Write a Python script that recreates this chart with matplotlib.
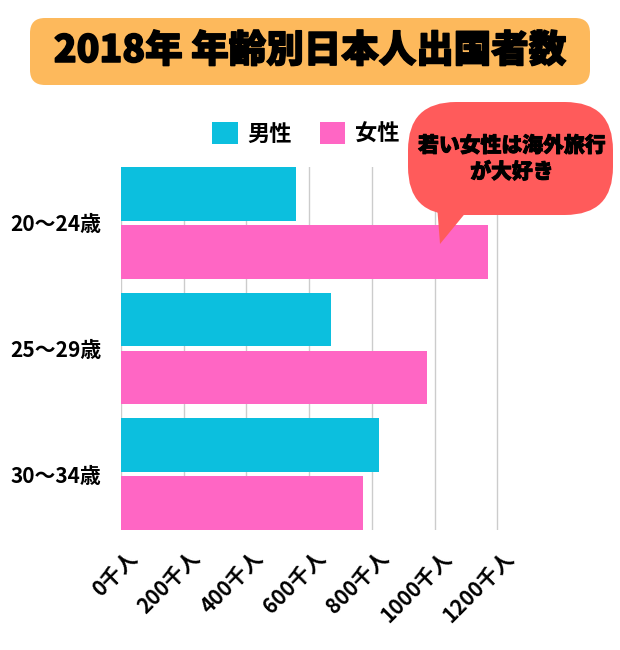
import matplotlib
matplotlib.use('Agg')
import matplotlib.pyplot as plt
import matplotlib.patheffects as pe
import matplotlib.transforms as mtrans
from matplotlib.patches import FancyBboxPatch, Polygon
import numpy as np

plt.rcParams['font.family'] = ['Noto Sans CJK JP', 'DejaVu Sans']

# data (thousand people)
ages = ['20〜24歳', '25〜29歳', '30〜34歳']
male = [558, 669, 822]
female = [1170, 975, 771]
xticks = [0, 200, 400, 600, 800, 1000, 1200]
xlabels = [str(v) + '千人' for v in xticks]

CYAN = '#0CBFDE'
PINK = '#FF66C4'

fig = plt.figure(figsize=(6.2, 6.5), dpi=100)
ax = fig.add_axes([121 / 620, 1 - 530 / 650, 392 / 620, 363 / 650])

y = np.arange(len(ages))
off = 0.231
h = 0.43
b1 = ax.barh(y - off, male, height=h, color=CYAN, label='男性', zorder=2)
b2 = ax.barh(y + off, female, height=h, color=PINK, label='女性', zorder=2)

ax.set_xlim(0, 1250)
ax.set_ylim(2.446, -0.446)
ax.set_yticks(y)
ax.set_yticklabels(ages, fontsize=15, fontweight='bold')
ax.set_xticks(xticks)
ax.set_xticklabels(xlabels, fontsize=15, fontweight='bold', rotation=45,
                   ha='right', rotation_mode='anchor')
ax.tick_params(axis='both', length=0)
ax.tick_params(axis='y', pad=14)
ax.tick_params(axis='x', pad=10)
shift = mtrans.ScaledTranslation(6 / 100, -3 / 100, fig.dpi_scale_trans)
for t in ax.get_xticklabels():
    t.set_transform(t.get_transform() + shift)
ax.grid(axis='x', color='#cccccc', linewidth=1, zorder=0)
for s in ax.spines.values():
    s.set_visible(False)

fig.legend(handles=[b1, b2], loc='center', bbox_to_anchor=(306 / 620, 1 - 134 / 650),
           ncol=2, frameon=False, handlelength=1.15, handleheight=1.15,
           columnspacing=1.25, handletextpad=0.45, prop={'weight': 'bold', 'size': 16})

# title box
tr = fig.dpi_scale_trans
fig.patches.append(FancyBboxPatch((0.45, 5.8), 5.3, 0.37, boxstyle='round,pad=0.15',
                                  transform=tr, facecolor='#FDB95C', edgecolor='none'))
fig.text(0.5, 1 - 51 / 650, '2018年 年齢別日本人出国者数', ha='center', va='center',
         fontsize=27, fontweight='heavy', color='black',
         path_effects=[pe.withStroke(linewidth=1.1, foreground='black')])

# callout bubble
fig.patches.append(FancyBboxPatch((4.56, 4.83), 1.09, 0.17, boxstyle='round,pad=0.48',
                                  transform=tr, facecolor='#FF5B5B', edgecolor='none',
                                  zorder=3))
fig.patches.append(Polygon([(4.37, 4.45), (4.40, 4.06), (4.72, 4.45)], closed=True,
                           transform=tr, facecolor='#FF5B5B', edgecolor='none', zorder=3))
fig.text(512 / 620, 1 - 159 / 650, '若い女性は海外旅行\nが大好き', ha='center', va='center',
         fontsize=15, fontweight='heavy', color='black', linespacing=1.35, zorder=4,
         path_effects=[pe.withStroke(linewidth=0.7, foreground='black')])

fig.savefig('out.png', dpi=100)
